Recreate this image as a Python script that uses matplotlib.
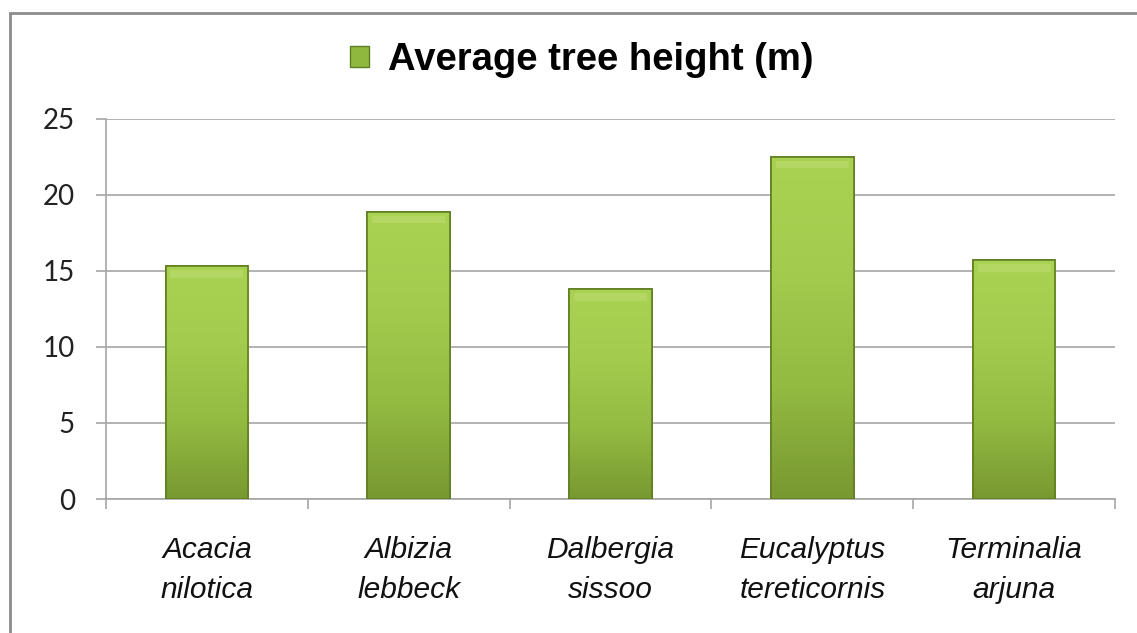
import numpy as np
import matplotlib.pyplot as plt
from matplotlib.patches import Rectangle
from matplotlib.colors import LinearSegmentedColormap

especies = ["Acacia\nnilotica", "Albizia\nlebbeck", "Dalbergia\nsissoo",
            "Eucalyptus\ntereticornis", "Terminalia\narjuna"]
altura = [15.3, 18.9, 13.8, 22.5, 15.7]
y_ticks = [0, 5, 10, 15, 20, 25]
leyenda = "Average tree height (m)"

W, H = 1137, 633
fig = plt.figure(figsize=(W / 100, H / 100), dpi=100)
fig.patch.set_facecolor("white")
ax = fig.add_axes([106 / W, 1 - 499 / H, (1115 - 106) / W, (499 - 119) / H])

x = np.arange(len(especies))
barras = ax.bar(x, altura, width=0.41, color="#99c145", edgecolor="#5f7f22",
                linewidth=1.2, zorder=3)

# degradado vertical dentro de cada barra
verde = LinearSegmentedColormap.from_list(
    "verde", ["#789830", "#93bb42", "#a3cb4d", "#aad252"])
grad = np.linspace(0, 1, 256).reshape(-1, 1)
for b in barras:
    x0, y0 = b.get_x(), b.get_y()
    w, h = b.get_width(), b.get_height()
    im = ax.imshow(grad, cmap=verde, origin="lower", aspect="auto",
                   extent=(x0, x0 + w, y0, y0 + h), zorder=3.5)
    im.set_clip_path(b)
    # brillo superior
    ax.add_patch(Rectangle((x0 + w * 0.06, y0 + h - 0.75), w * 0.88, 0.5,
                           facecolor="#c0df78", edgecolor="none", alpha=0.45,
                           zorder=3.6, clip_path=b))
    ax.add_patch(Rectangle((x0, y0), w, h, facecolor="none",
                           edgecolor="#5f7f22", linewidth=1.2, zorder=3.7))

ax.set_xlim(-0.5, len(especies) - 0.5)
ax.set_ylim(0, 25)
ax.set_yticks(y_ticks)
ax.set_yticklabels([str(v) for v in y_ticks], fontsize=20, family="Lato",
                   color="#222222")
ax.yaxis.grid(True, color="#a6a6a6", linewidth=1.2, zorder=0)
ax.set_axisbelow(True)

ax.set_xticks(x)
ax.set_xticklabels(especies, fontsize=21.5, family="Liberation Sans",
                   style="italic", color="#111111", linespacing=1.5)
ax.tick_params(axis="x", length=0, pad=27)
ax.set_xticks(np.arange(-0.5, len(especies)), minor=True)
ax.tick_params(axis="x", which="minor", length=7.5, color="#a6a6a6", width=1.2)
ax.tick_params(axis="y", length=7.5, color="#a6a6a6", width=1.2, pad=15)

for s in ["top", "right"]:
    ax.spines[s].set_visible(False)
for s in ["left", "bottom"]:
    ax.spines[s].set_color("#a6a6a6")
    ax.spines[s].set_linewidth(1.2)

# leyenda centrada arriba
handle = Rectangle((0, 0), 1, 1, facecolor="#8fb83f", edgecolor="#5f7f22")
fig.legend([handle], [leyenda], loc="center", bbox_to_anchor=(0.512, 1 - 60 / H),
           frameon=False, prop={"family": "Liberation Sans", "weight": "bold",
                                "size": 27.5},
           handlelength=0.5, handleheight=0.5, handletextpad=0.5)

# marco exterior del gráfico
fig.add_artist(Rectangle((9.5 / W, -0.1), 1.2, 1 - 13 / H + 0.1,
                         transform=fig.transFigure, facecolor="none",
                         edgecolor="#8c8c8c", linewidth=2))

fig.savefig("out.png", dpi=100)
